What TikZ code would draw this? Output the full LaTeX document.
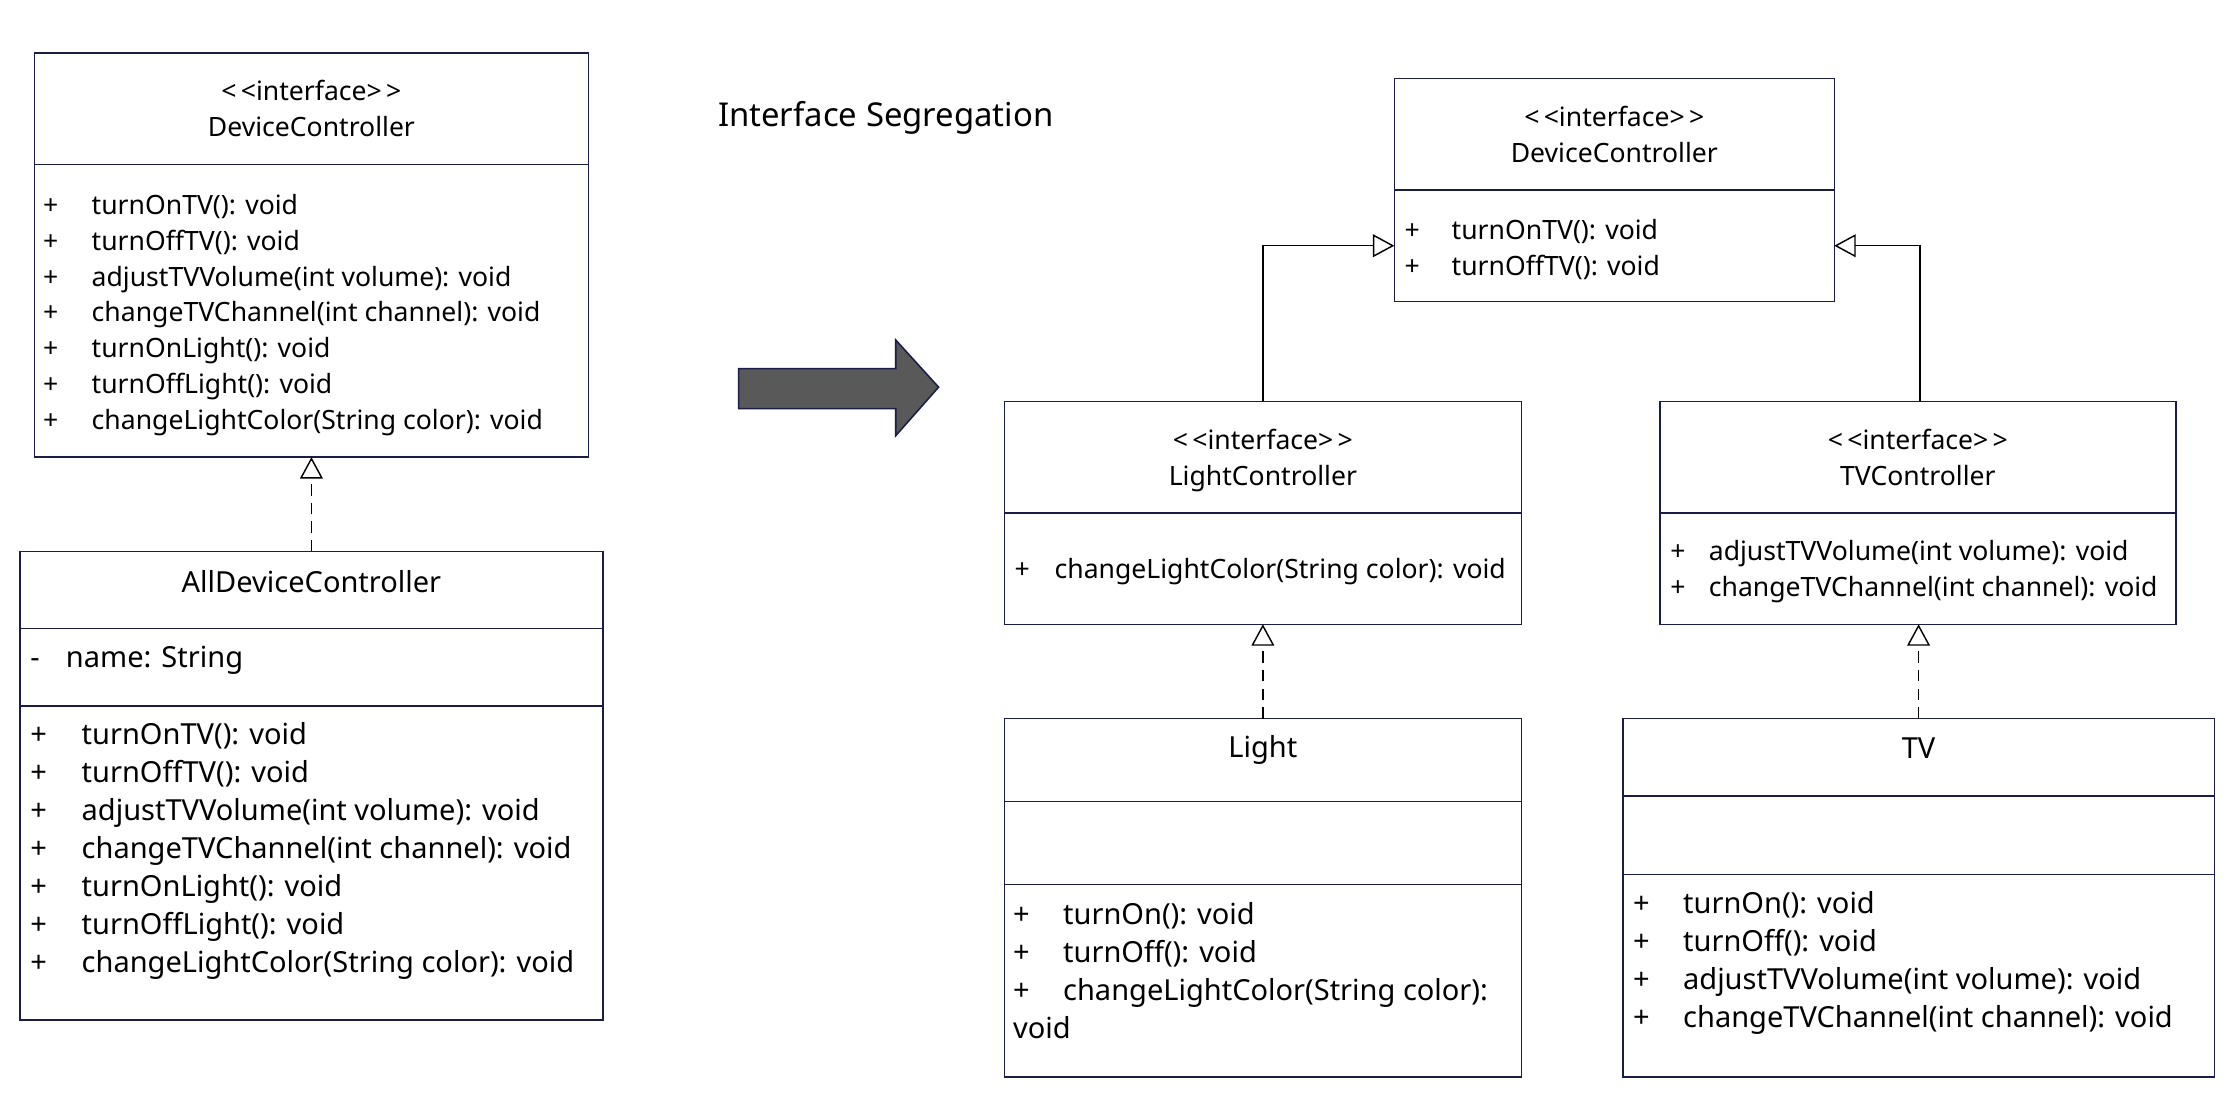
\documentclass[tikz,border=0pt]{standalone}
\usepackage{fontspec}
\setmainfont{Noto Sans}
\usepackage{xcolor}
\usepackage{tikz}
\usetikzlibrary{positioning,arrows.meta}
\definecolor{umlNavy}{HTML}{1A1D48}
\definecolor{arrowGray}{HTML}{595959}
\newcommand{\umlop}[2][34pt]{\makebox[#1][l]{+}#2}
\newcommand{\stereo}{<\kern3pt<interface>\kern3pt>}

\begin{document}
\begin{tikzpicture}[x=1pt,y=-1pt,
      comp/.style={draw=umlNavy,line width=1.1pt,inner sep=0pt,outer sep=0pt,align=center},
      ifont/.style={font=\fontsize{18.6}{25}\selectfont},
      cfont/.style={font=\fontsize{20.3}{26.6}\selectfont},
      ops/.style={inner sep=0pt,align=left,anchor=west},
      realize/.style={line width=1pt,dash pattern=on 8pt off 5pt,-{Triangle[open,length=15pt,width=16pt]}},
      inherit/.style={line width=1pt,-{Triangle[open,length=15pt,width=16pt]}}]
    \useasboundingbox (0,0) rectangle (1568,777);
    \node[font=\fontsize{23}{28}\selectfont] (title) at (620,82.5) {Interface Segregation};

    \node[comp,ifont,minimum width=388pt,minimum height=78pt] (dcOldHead) at (218,76) {\stereo\\DeviceController};
    \node[comp,minimum width=388pt,minimum height=205pt,below=0pt of dcOldHead] (dcOldOps) {};
    \node[ops,ifont] (dcOldOpsTxt) at (30,220.5) {\umlop{turnOnTV(): void}\\\umlop{turnOffTV(): void}\\
      \umlop{adjustTVVolume(int volume): void}\\\umlop{changeTVChannel(int channel): void}\\
      \umlop{turnOnLight(): void}\\\umlop{turnOffLight(): void}\\\umlop{changeLightColor(String color): void}};

    \node[comp,minimum width=408pt,minimum height=54pt] (allHead) at (218,413) {};
    \node[comp,minimum width=408pt,minimum height=54pt,below=0pt of allHead] (allAttr) {};
    \node[comp,minimum width=408pt,minimum height=220pt,below=0pt of allAttr] (allOps) {};
    \node[cfont] (allName) at (218,407) {AllDeviceController};
    \node[ops,cfont] (allAttrTxt) at (21,462) {\makebox[25pt][l]{-}name: String};
    \node[ops,cfont] (allOpsTxt) at (21,596) {\umlop[36pt]{turnOnTV(): void}\\\umlop[36pt]{turnOffTV(): void}\\
      \umlop[36pt]{adjustTVVolume(int volume): void}\\\umlop[36pt]{changeTVChannel(int channel): void}\\
      \umlop[36pt]{turnOnLight(): void}\\\umlop[36pt]{turnOffLight(): void}\\\umlop[36pt]{changeLightColor(String color): void}};

    \draw[draw=umlNavy,fill=arrowGray,line width=1.1pt] (517,258) -- (627,258) -- (627,238) -- (657,271)
      -- (627,305) -- (627,286) -- (517,286) -- cycle;

    \node[comp,ifont,minimum width=308pt,minimum height=78pt] (dcNewHead) at (1130,94) {\stereo\\DeviceController};
    \node[comp,minimum width=308pt,minimum height=78pt,below=0pt of dcNewHead] (dcNewOps) {};
    \node[ops,ifont] (dcNewOpsTxt) at (983,174.5) {\umlop[33pt]{turnOnTV(): void}\\\umlop[33pt]{turnOffTV(): void}};

    \node[comp,ifont,minimum width=362pt,minimum height=78pt,text depth=0pt] (lightIfHead) at (884,320) {\stereo\\LightController};
    \node[comp,minimum width=362pt,minimum height=78pt,below=0pt of lightIfHead] (lightIfOps) {};
    \node[ops,ifont] (lightIfOpsTxt) at (710,400) {\umlop[28pt]{changeLightColor(String color): void}};

    \node[comp,ifont,minimum width=361pt,minimum height=78pt] (tvIfHead) at (1342.5,320) {\stereo\\TVController};
    \node[comp,minimum width=361pt,minimum height=78pt,below=0pt of tvIfHead] (tvIfOps) {};
    \node[ops,ifont] (tvIfOpsTxt) at (1169,400) {\umlop[27pt]{adjustTVVolume(int volume): void}\\
      \umlop[27pt]{changeTVChannel(int channel): void}};

    \node[comp,minimum width=362pt,minimum height=58pt] (lightHead) at (884,532) {};
    \node[comp,minimum width=362pt,minimum height=58pt,below=0pt of lightHead] (lightAttr) {};
    \node[comp,minimum width=362pt,minimum height=135pt,below=0pt of lightAttr] (lightOps) {};
    \node[cfont] (lightName) at (884,525) {Light};
    \node[ops,cfont] (lightOpsTxt) at (709,679.5) {\umlop[35pt]{turnOn(): void}\\\umlop[35pt]{turnOff(): void}\\
      \umlop[35pt]{changeLightColor(String color):}\\void};

    \node[comp,minimum width=414pt,minimum height=54pt] (tvHead) at (1343,530) {};
    \node[comp,minimum width=414pt,minimum height=55pt,below=0pt of tvHead] (tvAttr) {};
    \node[comp,minimum width=414pt,minimum height=142pt,below=0pt of tvAttr] (tvOps) {};
    \node[cfont] (tvName) at (1343,524) {TV};
    \node[ops,cfont] (tvOpsTxt) at (1143,674) {\umlop[35pt]{turnOn(): void}\\\umlop[35pt]{turnOff(): void}\\
      \umlop[35pt]{adjustTVVolume(int volume): void}\\\umlop[35pt]{changeTVChannel(int channel): void}};

    \foreach \sub/\sup in {allHead/dcOldOps,lightHead/lightIfOps,tvHead/tvIfOps}
      \draw[realize] (\sub.north) -- (\sub.north |- \sup.south);
    \draw[inherit] (lightIfHead.north) |- (dcNewOps.west);
    \draw[inherit] ([xshift=1.5pt]tvIfHead.north) |- (dcNewOps.east);
  \end{tikzpicture}
\end{document}
